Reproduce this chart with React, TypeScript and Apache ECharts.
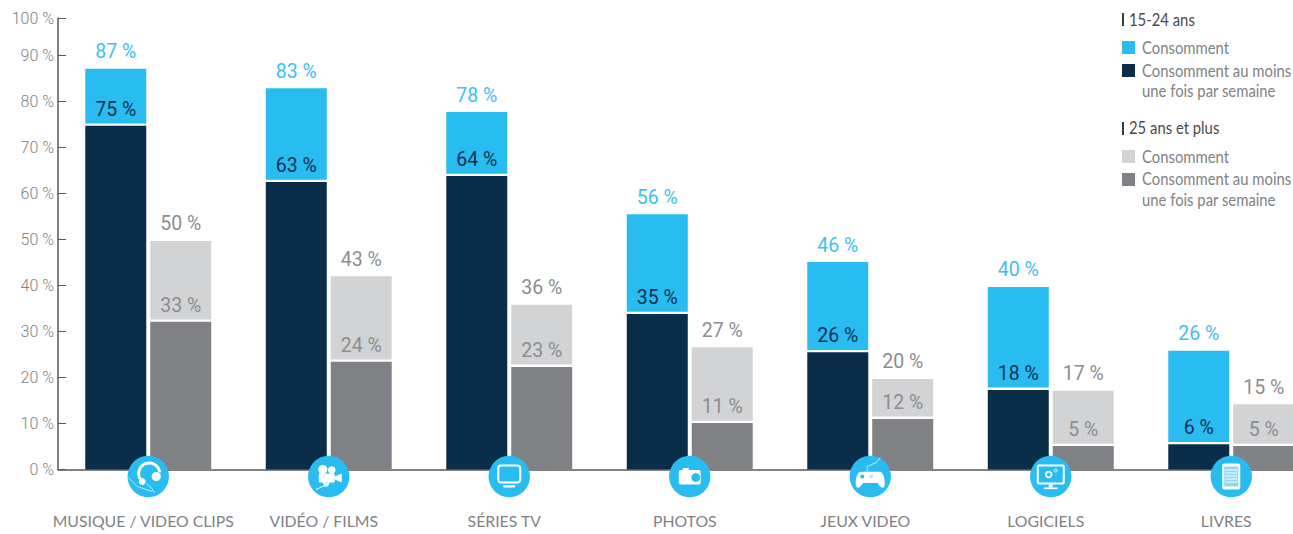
import React, { useEffect, useRef } from "react";
import * as echarts from "echarts";

const categories = ["MUSIQUE / VIDEO CLIPS", "VIDÉO / FILMS", "SÉRIES TV", "PHOTOS", "JEUX VIDEO", "LOGICIELS", "LIVRES"];
const yTickLabels = ["0 %", "10 %", "20 %", "30 %", "40 %", "50 %", "60 %", "70 %", "80 %", "90 %", "100 %"];

// Bar heights
const youngAll = [87.1, 82.9, 77.7, 55.5, 45.1, 39.7, 25.8];
const youngWeekly = [74.7, 62.5, 63.8, 33.8, 25.5, 17.3, 5.5];
const olderAll = [49.7, 42, 35.8, 26.6, 19.7, 17.1, 14.2];
const olderWeekly = [32.1, 23.4, 22.3, 10.1, 11, 5.1, 5.1];

// Values as printed above / inside the bars
const youngAllLabels = ["87 %", "83 %", "78 %", "56 %", "46 %", "40 %", "26 %"];
const youngWeeklyLabels = ["75 %", "63 %", "64 %", "35 %", "26 %", "18 %", "6 %"];
const olderAllLabels = ["50 %", "43 %", "36 %", "27 %", "20 %", "17 %", "15 %"];
const olderWeeklyLabels = ["33 %", "24 %", "23 %", "11 %", "12 %", "5 %", "5 %"];

const GAP = 0.5; // white separator between the two parts of a bar, in axis units

const BLUE = "#28BCF0";
const NAVY = "#0A2D4A";
const LIGHT = "#D2D3D5";
const GREY = "#808184";
const TEXT = "#808285";
const LABEL_BLUE = "#3DC1F2";
const LABEL_GREY = "#8C8D90";
const FONT = "Roboto";
const NARROW = "Lato";

const W = "#fff";
const line = (points: number[][], lineWidth = 0.7) => ({ type: "polyline", shape: { points }, style: { stroke: W, lineWidth, fill: "none" } });
const icons: any[][] = [
  // headphones
  [
    { type: "arc", shape: { cx: 1, cy: -3, r: 10.5, startAngle: -0.1, endAngle: 2.6, clockwise: false }, style: { stroke: W, lineWidth: 3, fill: "none" } },
    { type: "circle", shape: { cx: 8, cy: 0, r: 4.6 }, style: { fill: W } },
    { type: "circle", shape: { cx: -6, cy: 5, r: 3.4 }, style: { fill: W } },
    line([[-20, 1], [-11, 10], [4, 15]]),
    line([[-2, 7], [3, 11], [6, 16]]),
  ],
  // movie camera
  [
    { type: "circle", shape: { cx: -6, cy: -7, r: 4.6 }, style: { fill: W } },
    { type: "circle", shape: { cx: 3, cy: -6.5, r: 3.8 }, style: { fill: W } },
    { type: "rect", shape: { x: -10, y: -3, width: 16, height: 9, r: 1 }, style: { fill: W } },
    { type: "polygon", shape: { points: [[6, 0], [13, -3], [13, 6], [6, 3]] }, style: { fill: W } },
    { type: "polygon", shape: { points: [[-6, 6], [1, 6], [-1, 10], [-4, 10]] }, style: { fill: W } },
    line([[-13, 13], [-4, 9]], 1),
  ],
  // screen
  [
    { type: "rect", shape: { x: -11, y: -11, width: 22, height: 17, r: 3 }, style: { fill: "none", stroke: W, lineWidth: 2 } },
    { type: "rect", shape: { x: -6, y: 8.5, width: 12, height: 2.6, r: 1 }, style: { fill: W } },
  ],
  // camera
  [
    { type: "rect", shape: { x: -11, y: -6.5, width: 22, height: 14.5, r: 2 }, style: { fill: W } },
    { type: "rect", shape: { x: -7, y: -8.5, width: 6, height: 2 }, style: { fill: W } },
    { type: "circle", shape: { cx: 6, cy: 1, r: 4.4 }, style: { fill: BLUE } },
  ],
  // game pad
  [
    { type: "path", shape: { pathData: "M-9 -5 L9 -5 C13 -5 15 3 14 9 C13 12 10 11 7 6 L-7 6 C-10 11 -13 12 -14 9 C-15 3 -13 -5 -9 -5 Z", x: -14.5, y: -5, width: 29, height: 16.5 }, style: { fill: W } },
    { type: "circle", shape: { cx: -8, cy: 0, r: 2 }, style: { fill: BLUE } },
    { type: "circle", shape: { cx: 1, cy: 0, r: 2 }, style: { fill: "#BFEBFB" } },
    line([[-3, -5], [-3, -10], [6, -14], [10, -19]]),
  ],
  // monitor with gears
  [
    { type: "rect", shape: { x: -13, y: -11, width: 26, height: 18, r: 1 }, style: { fill: "none", stroke: W, lineWidth: 2 } },
    { type: "rect", shape: { x: -2, y: 8, width: 4, height: 3 }, style: { fill: W } },
    { type: "rect", shape: { x: -7, y: 11, width: 14, height: 1.6 }, style: { fill: W } },
    { type: "circle", shape: { cx: -2, cy: -2, r: 2.8 }, style: { fill: "none", stroke: W, lineWidth: 1.8 } },
    { type: "circle", shape: { cx: 5, cy: -6, r: 1.5 }, style: { fill: "none", stroke: W, lineWidth: 1 } },
  ],
  // e-reader
  [
    { type: "rect", shape: { x: -9, y: -13, width: 18, height: 26, r: 2 }, style: { fill: W } },
    { type: "rect", shape: { x: -7, y: -10, width: 14, height: 20 }, style: { fill: "#8FD8F5" } },
    { type: "rect", shape: { x: -6, y: -7, width: 12, height: 1 }, style: { fill: W } },
    { type: "rect", shape: { x: -6, y: -4, width: 12, height: 1 }, style: { fill: W } },
    { type: "rect", shape: { x: -6, y: -1, width: 12, height: 1 }, style: { fill: W } },
    { type: "rect", shape: { x: -6, y: 2, width: 12, height: 1 }, style: { fill: W } },
    { type: "rect", shape: { x: -6, y: 5, width: 12, height: 1 }, style: { fill: W } },
  ],
];

const fromList = (labels: string[]) => (p: any) => labels[p.dataIndex];

function pair(stack: string, name: string, topColor: string, bottomColor: string, all: number[], weekly: number[], allLabels: string[], weeklyLabels: string[], topLabel: string, innerLabel: string, size: number) {
  return [
    {
      type: "bar", name: name + " hebdo", stack, data: weekly, barWidth: 61, barGap: "6.5%", z: 2,
      itemStyle: { color: bottomColor },
    },
    {
      type: "bar", name: name + " séparateur", stack, data: weekly.map(() => GAP), barWidth: 61, barGap: "6.5%", z: 3,
      itemStyle: { color: "rgba(0,0,0,0)" },
      label: { show: true, position: "top", distance: 4, formatter: fromList(weeklyLabels), color: innerLabel, fontFamily: FONT, fontSize: size, fontWeight: 400 },
    },
    {
      type: "bar", name, stack, data: all.map((v, i) => v - weekly[i] - GAP), barWidth: 61, barGap: "6.5%", z: 2,
      itemStyle: { color: topColor },
      label: { show: true, position: "top", distance: 7, formatter: fromList(allLabels), color: topLabel, fontFamily: FONT, fontSize: size, fontWeight: 400 },
    },
  ];
}

const legendText = (x: number, y: number, text: string, fill = TEXT, size = 16.5) => ({
  type: "text", x, y, scaleX: 0.9, style: { text, fill, fontFamily: NARROW, fontSize: size, textVerticalAlign: "middle" },
});
const legendSwatch = (y: number, fill: string) => ({
  type: "rect", shape: { x: 1122, y, width: 13, height: 13 }, style: { fill },
});
const legendBar = (y: number) => ({
  type: "rect", shape: { x: 1122, y, width: 2, height: 13 }, style: { fill: "#3A3A3C" },
});

export default function App() {
  const ref = useRef<HTMLDivElement>(null);
  useEffect(() => {
    const chart = echarts.init(ref.current!, undefined, { renderer: "svg" });
    chart.setOption({
      animation: false,
      backgroundColor: "#fff",
      grid: { left: 58, top: 18, width: 1263.5, height: 451.5, containLabel: false, outerBoundsMode: "none" },
      xAxis: {
        type: "category",
        data: categories,
        axisLine: { lineStyle: { color: "#58595B", width: 1.5 } },
        axisTick: { show: false },
        axisLabel: { interval: 0, margin: 43, color: TEXT, fontFamily: NARROW, fontSize: 15.8, padding: [0, 10, 0, 0], hideOverlap: false },
      },
      yAxis: {
        type: "value",
        min: 0,
        max: 98.15,
        interval: 10,
        splitLine: { show: false },
        axisLine: { show: true, lineStyle: { color: "#58595B", width: 1.5 } },
        axisTick: { show: true, inside: true, length: 8, lineStyle: { color: "#58595B", width: 1 } },
        axisLabel: {
          margin: 4, color: TEXT, fontFamily: FONT, fontWeight: 300, fontSize: 16,
          formatter: (_v: number, i: number) => yTickLabels[i],
        },
      },
      series: [
        ...pair("young", "15-24 ans", BLUE, NAVY, youngAll, youngWeekly, youngAllLabels, youngWeeklyLabels, LABEL_BLUE, "#0F3150", 19.5),
        ...pair("older", "25 ans et plus", LIGHT, GREY, olderAll, olderWeekly, olderAllLabels, olderWeeklyLabels, LABEL_GREY, LABEL_GREY, 19.5),
        {
          type: "custom",
          name: "icônes",
          data: categories.map((_, i) => [i, 0]),
          encode: { x: 0, y: 1 },
          clip: false,
          z: 5,
          renderItem: (_p: any, api: any) => {
            const [x, y] = api.coord([api.value(0), 0]);
            return {
              type: "group",
              x,
              y: y + 7,
              children: [
                { type: "circle", shape: { cx: 0, cy: 0, r: 20.7 }, style: { fill: BLUE } },
                ...icons[api.value(0)],
              ],
            };
          },
        },
      ],
      graphic: [
        legendBar(13), legendText(1129, 20, "15-24 ans", "#4A4A4C"),
        legendSwatch(41, BLUE), legendText(1142, 48, "Consomment"),
        legendSwatch(64, NAVY), legendText(1142, 71, "Consomment au moins"), legendText(1142, 91, "une fois par semaine"),
        legendBar(122), legendText(1129, 128, "25 ans et plus", "#4A4A4C"),
        legendSwatch(150, LIGHT), legendText(1142, 157, "Consomment"),
        legendSwatch(173, GREY), legendText(1142, 179, "Consomment au moins"), legendText(1142, 200, "une fois par semaine"),
      ],
    });
    return () => chart.dispose();
  }, []);
  return <div ref={ref} style={{ position: "fixed", left: 0, top: 0, width: 1293, height: 534 }} />;
}
